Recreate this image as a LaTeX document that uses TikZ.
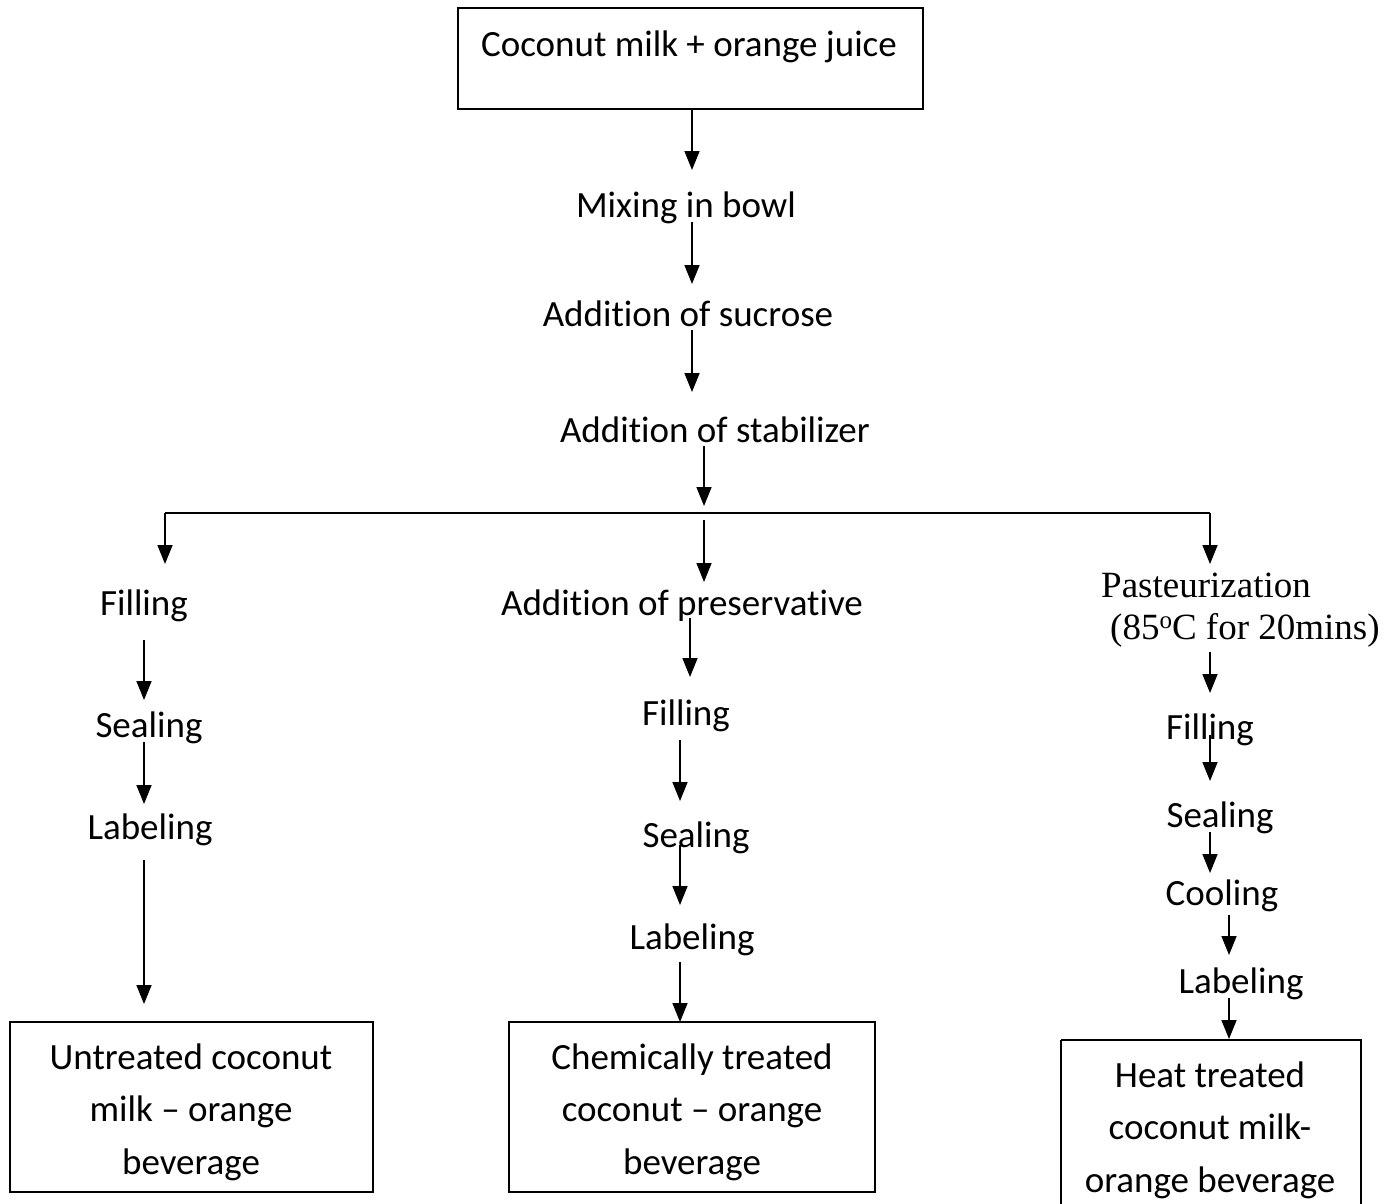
\documentclass[tikz,border=0pt]{standalone}
\usepackage{fontspec}
\setmainfont[Ligatures=NoCommon]{Carlito}
\newfontfamily\timesfont{Liberation Serif}
\usetikzlibrary{arrows.meta}
\begin{document}
\begin{tikzpicture}[x=1pt,y=-1pt,
  txt/.style={inner sep=0pt,font=\fontsize{37}{52.5}\selectfont},
  ttxt/.style={inner sep=0pt,font=\timesfont\fontsize{37}{44}\selectfont},
  box/.style={draw,line width=1.6pt},
  arr/.style={line width=1.6pt,-{Triangle[length=19pt,width=15pt]}},
  ln/.style={line width=1.6pt}]
\useasboundingbox (0,0) rectangle (1399,1203);
% top box
\draw[box] (458,8) rectangle (923,109);
\node[txt] (top) at (689,47) {Coconut milk + orange juice};
\coordinate (topb) at (692,109);
\node[txt] (mix) at (686,208) {Mixing in bowl};
\node[txt] (suc) at (688,314) {Addition of sucrose};
\node[txt] (stab) at (715,430) {Addition of stabilizer};
\coordinate (a1) at (692,170);
\coordinate (a2s) at (692,222); \coordinate (a2e) at (692,284);
\coordinate (a3s) at (692,330); \coordinate (a3e) at (692,392);
\coordinate (a4s) at (704,446); \coordinate (a4e) at (704,506);
\draw[arr] (topb) -- (a1);
\draw[arr] (a2s) -- (a2e);
\draw[arr] (a3s) -- (a3e);
\draw[arr] (a4s) -- (a4e);
% branch
\coordinate (bl) at (165,513); \coordinate (br) at (1210,513);
\coordinate (ble) at (165,564); \coordinate (bre) at (1210,564);
\draw[ln] (bl) -- (br);
\draw[arr] (bl) -- (ble);
\draw[arr] (br) -- (bre);
\coordinate (bms) at (704,520); \coordinate (bme) at (704,582);
\draw[arr] (bms) -- (bme);
% left column
\node[txt] (lfill) at (144,606) {Filling};
\node[txt] (lseal) at (149,728) {Sealing};
\node[txt] (llab) at (150,830) {Labeling};
\draw[arr] (144,640) coordinate (l1s) -- (144,700) coordinate (l1e);
\draw[arr] (144,742) coordinate (l2s) -- (144,804) coordinate (l2e);
\draw[arr] (144,860) coordinate (l3s) -- (144,1004) coordinate (l3e);
\draw[box] (10,1022) rectangle (373,1192);
\node[txt,align=center] (lbox) at (191,1112) {Untreated coconut\\milk – orange\\beverage};
% middle column
\node[txt] (mpres) at (682,606) {Addition of preservative};
\node[txt] (mfill) at (686,716) {Filling};
\node[txt] (mseal) at (696,838) {Sealing};
\node[txt] (mlab) at (692,940) {Labeling};
\draw[arr] (690,618) coordinate (m1s) -- (690,677) coordinate (m1e);
\draw[arr] (680,740) coordinate (m2s) -- (680,801) coordinate (m2e);
\draw[arr] (680,845) coordinate (m3s) -- (680,905) coordinate (m3e);
\draw[arr] (680,962) coordinate (m4s) -- (680,1022) coordinate (m4e);
\draw[box] (509,1022) rectangle (875,1192);
\node[txt,align=center] (mbox) at (692,1112) {Chemically treated\\coconut – orange\\beverage};
% right column
\node[ttxt,anchor=west] (rpast) at (1101,585) {Pasteurization};
\node[ttxt,anchor=west] (rtemp) at (1110,630) {(85\raisebox{0.3em}{\fontsize{25}{25}\selectfont o}C for 20mins)};
\node[txt] (rfill) at (1210,730) {Filling};
\node[txt] (rseal) at (1220,818) {Sealing};
\node[txt] (rcool) at (1222,896) {Cooling};
\node[txt] (rlab) at (1241,984) {Labeling};
\draw[arr] (1210,652) coordinate (r1s) -- (1210,693) coordinate (r1e);
\draw[arr] (1210,735) coordinate (r2s) -- (1210,781) coordinate (r2e);
\draw[arr] (1210,832) coordinate (r3s) -- (1210,873) coordinate (r3e);
\draw[arr] (1229,915) coordinate (r4s) -- (1229,955) coordinate (r4e);
\draw[arr] (1229,998) coordinate (r5s) -- (1229,1039) coordinate (r5e);
\draw[box] (1061,1040) -- (1061,1210) (1061,1040) -- (1361,1040) -- (1361,1210);
\node[txt,align=center] (rbox) at (1210,1130) {Heat treated\\coconut milk-\\orange beverage};
\end{tikzpicture}
\end{document}
